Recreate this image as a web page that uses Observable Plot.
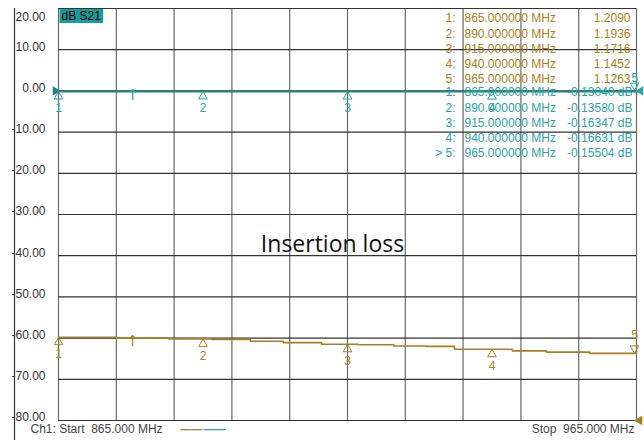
<!DOCTYPE html>
<html>
<head>
<meta charset="utf-8">
<script src="https://cdn.jsdelivr.net/npm/d3@7"></script>
<script src="https://cdn.jsdelivr.net/npm/@observablehq/plot@0.6"></script>
<style>
  html, body { margin: 0; padding: 0; background: #fff; }
  svg { display: block; }
</style>
</head>
<body>
<div id="chart"></div>
<script>
// ---- data ----
const startFreq = 865;
const stopFreq = 965;
const xTicks = [865, 875, 885, 895, 905, 915, 925, 935, 945, 955, 965];
const yTicks = [-80, -70, -60, -50, -40, -30, -20, -10, 0, 10, 20];

// gold trace (stepped), MHz / dB
const goldFreq = [865, 875, 884, 891.5, 898.2, 903.9, 910.5, 916.9, 923, 928.5, 933.5, 943.5, 949.4, 956.9, 965];
const goldDb   = [-59.8, -60.0, -60.2, -60.3, -60.75, -61.1, -61.5, -61.6, -61.9, -62.0, -62.7, -63.1, -63.4, -63.7, -63.7];

// markers
const markerIds  = ["1", "2", "3", "4", "5"];
const markerFreq = [865, 890, 915, 940, 965];
const markerGoldDb = [-59.8, -60.2, -61.5, -62.7, -63.7];
const markerGoldVal = ["1.2090", "1.1936", "1.1716", "1.1452", "1.1263"];
const markerTealDb = [-0.13040, -0.13580, -0.16347, -0.16631, -0.15504];
const tealIdx = ["1:", "2:", "3:", "4:", "> 5:"];
const stimArrowFreq = [877.8];

const gold = "#a97f22";
const teal = "#2aa3a3";
const tealDark = "#1f8585";

const goldData = goldFreq.map((f, i) => ({f, db: goldDb[i]}));
const tealData = markerFreq.map((f, i) => ({f, db: markerTealDb[i]}));
const mGold = markerFreq.map((f, i) => ({id: markerIds[i], f, db: markerGoldDb[i]}));
const mTeal = markerFreq.map((f, i) => ({id: markerIds[i], f, db: markerTealDb[i]}));

const freqTxt = markerFreq.map(f => f.toFixed(6) + " MHz").join("\n");
const goldIdxTxt = markerIds.map(d => d + ":").join("\n");
const goldValTxt = markerGoldVal.join("\n");
const tealIdxTxt = tealIdx.join("\n");
const tealValTxt = markerTealDb.map(v => v.toFixed(5) + " dB").join("\n");

const F = "Liberation Sans, Arial, sans-serif";
const first4 = d => markerIds.indexOf(d.id) < 4;
const last1 = d => d.id === "5";
const LABEL = "dB S21";

const plot = Plot.plot({
  width: 644,
  height: 440,
  marginLeft: 58,
  marginRight: 8,
  marginTop: 8,
  marginBottom: 20,
  style: {fontFamily: F, fontSize: "12px", background: "#fff", overflow: "visible"},
  x: {domain: [startFreq, stopFreq], axis: null},
  y: {domain: [-80, 20], axis: null},
  marks: [
    // grid
    Plot.ruleX(xTicks, {stroke: "#6a6a6a", strokeWidth: 1.2}),
    Plot.ruleY(yTicks, {stroke: "#333", strokeWidth: 1.2}),
    // left axis line
    Plot.ruleX([startFreq], {dx: -44, stroke: "#333", strokeWidth: 1.2, insetBottom: -20}),
    // y labels
    Plot.text(yTicks.filter(d => d < 20), {x: startFreq, y: d => d, text: d => d.toFixed(2), textAnchor: "end", dx: -13, dy: -3, fill: "#333", fontSize: 12}),
    Plot.text([20], {x: startFreq, y: d => d, text: d => d.toFixed(2), textAnchor: "end", dx: -13, dy: 9, fill: "#333", fontSize: 12}),
    // S21 label
    Plot.text([LABEL], {frameAnchor: "top-left", text: d => d, textAnchor: "start", lineAnchor: "top", dx: 3, dy: 3, fill: "#000", fontSize: 12}),
    // traces
    Plot.line(goldData, {x: "f", y: "db", curve: "step-after", stroke: gold, strokeWidth: 1.6}),
    Plot.line(tealData, {x: "f", y: "db", stroke: tealDark, strokeWidth: 2}),
    // markers gold
    Plot.dot(mGold.filter(first4), {x: "f", y: "db", symbol: "triangle", r: 3.2, stroke: gold, fill: "none", strokeWidth: 1, dy: 5}),
    Plot.text(mGold.filter(first4), {x: "f", y: "db", text: "id", fill: gold, fontSize: 12, dy: 17}),
    Plot.dot(mGold.filter(last1), {x: "f", y: "db", symbol: "triangle", rotate: 180, r: 3.2, stroke: gold, fill: "none", strokeWidth: 1, dy: -5, dx: -2}),
    Plot.text(mGold.filter(last1), {x: "f", y: "db", text: "id", fill: gold, fontSize: 12, dy: -18, dx: -2}),
    // markers teal
    Plot.dot(mTeal.filter(first4), {x: "f", y: "db", symbol: "triangle", r: 3.2, stroke: teal, fill: "none", strokeWidth: 1, dy: 5}),
    Plot.text(mTeal.filter(first4), {x: "f", y: "db", text: "id", fill: teal, fontSize: 12, dy: 17}),
    Plot.dot(mTeal.filter(last1), {x: "f", y: "db", symbol: "triangle", rotate: 180, r: 3.2, stroke: teal, fill: "none", strokeWidth: 1, dy: -6, dx: -2}),
    Plot.text(mTeal.filter(last1), {x: "f", y: "db", text: "id", fill: teal, fontSize: 12, dy: -13, dx: -2}),
    // stimulus arrows
    Plot.text(stimArrowFreq, {x: d => d, y: goldDb[1], text: () => "↑", fill: gold, fontSize: 15, fontFamily: "DejaVu Sans", dy: 3}),
    Plot.text(stimArrowFreq, {x: d => d, y: markerTealDb[0], text: () => "↑", fill: teal, fontSize: 15, fontFamily: "DejaVu Sans", dy: 4}),
    // reference arrows
    Plot.dot([0], {x: startFreq, y: d => d, symbol: "triangle", rotate: 90, r: 3.5, fill: tealDark, dx: -3}),
    Plot.dot([0], {x: stopFreq, y: d => d, symbol: "triangle", rotate: -90, r: 3.5, fill: teal, dx: 4}),
    Plot.dot([-80], {x: stopFreq, y: d => d, symbol: "triangle", rotate: -90, r: 3.5, fill: gold, dx: 3}),
    // marker table (gold)
    Plot.text([goldIdxTxt], {frameAnchor: "top-right", text: d => d, textAnchor: "end", lineAnchor: "top", lineHeight: 1.27, dx: -181, dy: 3, fill: gold, fontSize: 12}),
    Plot.text([freqTxt], {frameAnchor: "top-right", text: d => d, textAnchor: "start", lineAnchor: "top", lineHeight: 1.27, dx: -172, dy: 3, fill: gold, fontSize: 12}),
    Plot.text([goldValTxt], {frameAnchor: "top-right", text: d => d, textAnchor: "end", lineAnchor: "top", lineHeight: 1.27, dx: -6, dy: 3, fill: gold, fontSize: 12}),
    // marker table (teal)
    Plot.text([tealIdxTxt], {frameAnchor: "top-right", text: d => d, textAnchor: "end", lineAnchor: "top", lineHeight: 1.27, dx: -181, dy: 77, fill: teal, fontSize: 12}),
    Plot.text([freqTxt], {frameAnchor: "top-right", text: d => d, textAnchor: "start", lineAnchor: "top", lineHeight: 1.27, dx: -172, dy: 77, fill: teal, fontSize: 12}),
    Plot.text([tealValTxt], {frameAnchor: "top-right", text: d => d, textAnchor: "end", lineAnchor: "top", lineHeight: 1.27, dx: -4, dy: 77, fill: teal, fontSize: 12}),
    // annotation
    Plot.text(["Insertion loss"], {frameAnchor: "middle", text: d => d, fill: "#111", fontSize: 23, fontFamily: "Open Sans, sans-serif", dx: -15, dy: 30}),
    // footer
    Plot.text(["Ch1: Start  " + startFreq.toFixed(3) + " MHz"], {frameAnchor: "bottom-left", text: d => d, textAnchor: "start", dx: -28, dy: 12, fill: "#444", fontSize: 12}),
    Plot.text(["Stop  " + stopFreq.toFixed(3) + " MHz"], {frameAnchor: "bottom-right", text: d => d, textAnchor: "end", dx: -2, dy: 12, fill: "#444", fontSize: 12}),
    Plot.text(["\u2014\u2014"], {frameAnchor: "bottom-left", text: d => d, textAnchor: "start", dx: 122, dy: 12, fill: gold, fontSize: 11, fontWeight: "bold"}),
    Plot.text(["\u2014\u2014"], {frameAnchor: "bottom-left", text: d => d, textAnchor: "start", dx: 145, dy: 12, fill: teal, fontSize: 11, fontWeight: "bold"})
  ]
});

document.getElementById("chart").appendChild(plot);

// teal background box behind "dB S21"
const lab = Array.from(plot.querySelectorAll("text")).find(t => t.textContent === LABEL);
if (lab) {
  const bb = lab.getBBox();
  const r = document.createElementNS("http://www.w3.org/2000/svg", "rect");
  r.setAttribute("x", bb.x - 2);
  r.setAttribute("y", bb.y);
  r.setAttribute("width", bb.width + 4);
  r.setAttribute("height", bb.height);
  r.setAttribute("fill", "#1a9b9b");
  const tf = lab.getAttribute("transform");
  if (tf) r.setAttribute("transform", tf);
  lab.parentNode.insertBefore(r, lab);
}
</script>
</body>
</html>
